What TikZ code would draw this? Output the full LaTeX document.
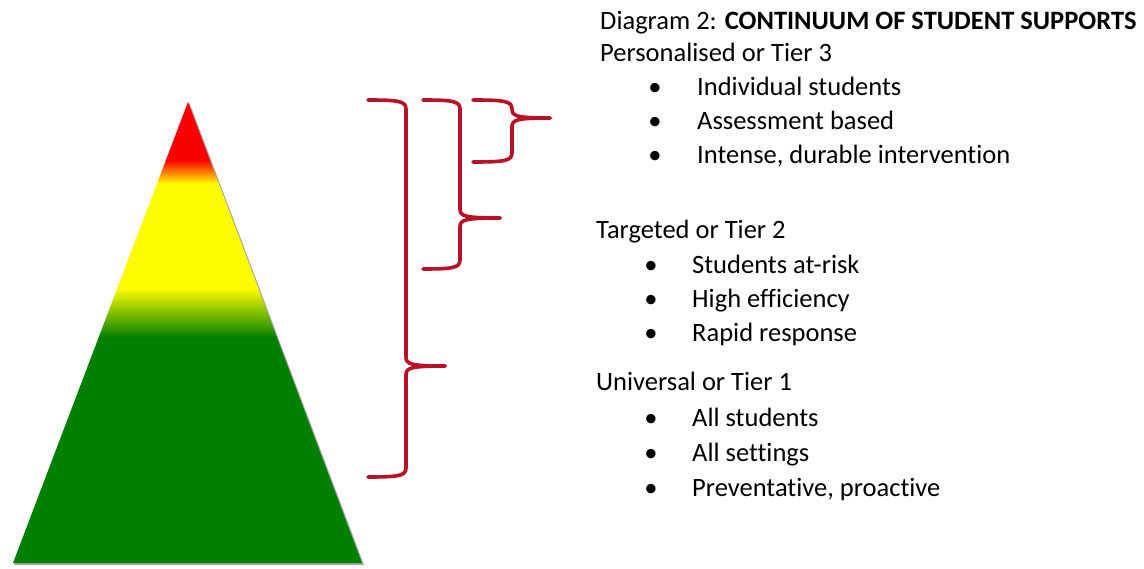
\documentclass[tikz,border=0pt]{standalone}
\usepackage{fontspec}
\setmainfont{Carlito}[Ligatures=NoCommon]
\definecolor{bracered}{RGB}{185,18,38}
\definecolor{tiergreen}{RGB}{0,128,0}
\definecolor{tierred}{RGB}{250,0,0}
\definecolor{tieryellow}{RGB}{255,252,0}
% curly bracket: x0, xv, ytop, ymid, ybot, xtip
\newcommand{\tierbrace}[6]{%
  \draw[brace] (#1,#3) .. controls (#2-8,#3) and (#2,#3+1) .. (#2,#3+9)
    -- (#2,#4-9) .. controls (#2,#4-2) and (#2+4,#4) .. (#6,#4);
  \draw[brace] (#6,#4) .. controls (#2+4,#4) and (#2,#4+2) .. (#2,#4+9)
    -- (#2,#5-9) .. controls (#2,#5-1) and (#2-8,#5) .. (#1,#5);}

\begin{document}
\begin{tikzpicture}[x=1pt, y=-1pt,
    brace/.style={draw=bracered, line width=3.6pt, line cap=round, line join=round},
    txt/.style={anchor=base west, inner sep=0pt, font=\fontsize{26.5}{30}\selectfont},
    dot/.style={anchor=base, inner sep=0pt, font=\fontsize{26.5}{30}\selectfont}]
    \useasboundingbox (0,0) rectangle (1144,569);

    % pyramid with shadow
    \fill[black!35] (189.5,103) -- (364,565) -- (14,565) -- cycle;
    \begin{scope}
        \clip (188,102) -- (362,563) -- (13,563) -- cycle;
        \fill[tierred] (0,95) rectangle (400,161);
        \shade[top color=tierred, bottom color=tieryellow] (0,160) rectangle (400,184);
        \fill[tieryellow] (0,183) rectangle (400,289);
        \shade[top color=tieryellow, bottom color=tiergreen] (0,288) rectangle (400,338);
        \fill[tiergreen] (0,337) rectangle (400,570);
    \end{scope}

    % brackets
    \tierbrace{368}{406}{100}{366}{477}{445}
    \tierbrace{423}{460}{100}{218}{269}{500}
    \tierbrace{473}{512}{100}{118}{162}{550}

    % texts
    \node[txt] (title) at (600,30) {Diagram 2: \textbf{CONTINUUM OF STUDENT SUPPORTS}};
    \node[txt] (tier3) at (600,62) {Personalised or Tier 3};
    \foreach \item [count=\i] in {Individual students, Assessment based, {Intense, durable intervention}}
        \node[txt] (tier3-\i) at (697,96+34*\i-34) {\item};
    \node[txt] (tier2) at (596,239) {Targeted or Tier 2};
    \foreach \item [count=\i] in {Students at-risk, High efficiency, Rapid response}
        \node[txt] (tier2-\i) at (692,274+34*\i-34) {\item};
    \node[txt] (tier1) at (596,391) {Universal or Tier 1};
    \foreach \item [count=\i] in {All students, All settings, {Preventative, proactive}}
        \node[txt] (tier1-\i) at (692,426+35*\i-35) {\item};

    % bullets
    \foreach \y in {96,130,164}
        \node[dot] at (655,\y) {\textbullet};
    \foreach \y in {274,308,342,426,461,496}
        \node[dot] at (651,\y) {\textbullet};
\end{tikzpicture}
\end{document}
